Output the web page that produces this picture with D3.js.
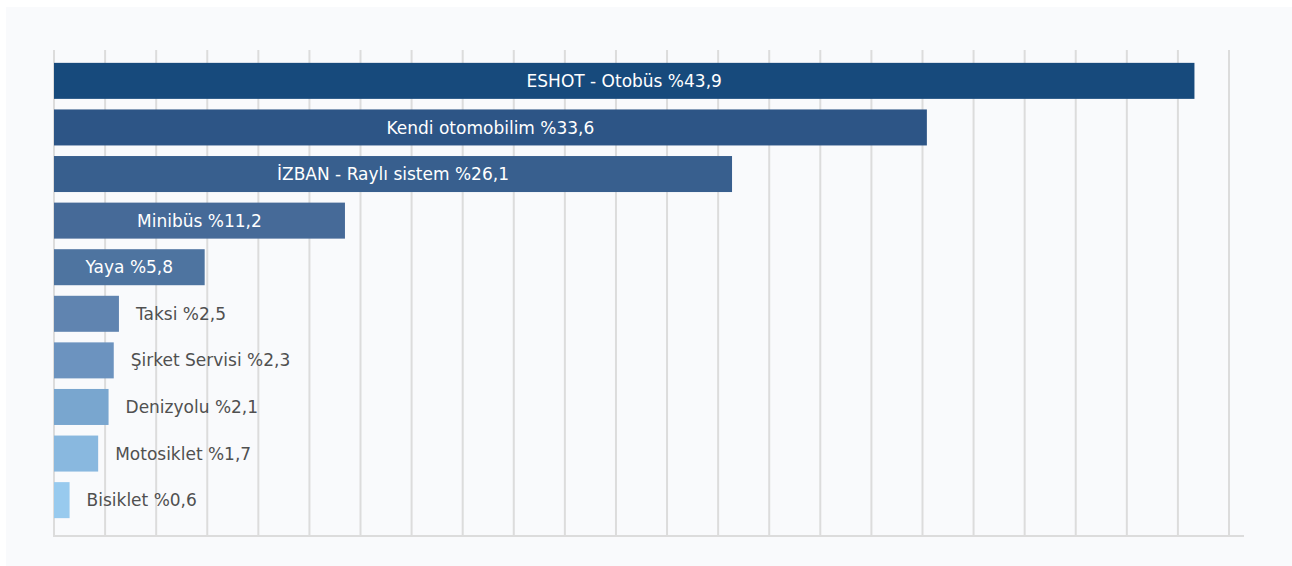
<!DOCTYPE html>
<html>
<head>
<meta charset="utf-8">
<script src="https://cdn.jsdelivr.net/npm/d3@7"></script>
<style>
  body { margin: 0; background: #fff; }
  svg text { font-family: "DejaVu Sans", sans-serif; }
</style>
</head>
<body>
<div id="chart"></div>
<script>
const categories = ["ESHOT - Otobüs", "Kendi otomobilim", "İZBAN - Raylı sistem", "Minibüs", "Yaya",
  "Taksi", "Şirket Servisi", "Denizyolu", "Motosiklet", "Bisiklet"];
const values = [43.9, 33.6, 26.1, 11.2, 5.8, 2.5, 2.3, 2.1, 1.7, 0.6];
const barColors = ["#174a7c", "#2d5586", "#385f8e", "#466a98", "#4e74a0",
  "#6084b0", "#6c93bf", "#79a6cf", "#89b8df", "#98caee"];

const width = 1292, height = 566;
const svg = d3.select('#chart').append('svg')
  .attr('width', width)
  .attr('height', height);

// light panel behind the chart
svg.append('rect')
  .attr('x', 6).attr('y', 7)
  .attr('width', width - 6).attr('height', height - 7)
  .attr('fill', '#f9fafc');

const xMax = 45.23;
const x = d3.scaleLinear()
  .domain([0, xMax])
  .range([54, 1229]);

const y = d3.scaleBand()
  .domain(categories)
  .range([57.5, 523.5])
  .paddingInner(0.227)
  .paddingOuter(0.115);

// vertical grid, 23 equal steps
const gridTicks = d3.range(0, 24).map(i => i * xMax / 23);
svg.append('g')
  .selectAll('line')
  .data(gridTicks)
  .enter().append('line')
  .attr('x1', d => x(d)).attr('x2', d => x(d))
  .attr('y1', 50).attr('y2', 536)
  .attr('stroke', '#dcdcdc')
  .attr('stroke-width', 2);

svg.append('line')
  .attr('x1', 53).attr('x2', 1244)
  .attr('y1', 536).attr('y2', 536)
  .attr('stroke', '#dcdcdc')
  .attr('stroke-width', 2);

const data = categories.map((c, i) => ({ name: c, value: values[i], color: barColors[i] }));

svg.append('g')
  .selectAll('rect')
  .data(data)
  .enter().append('rect')
  .attr('x', x(0))
  .attr('y', d => y(d.name))
  .attr('width', d => x(d.value) - x(0))
  .attr('height', y.bandwidth())
  .attr('fill', d => d.color);

const fmt = v => '%' + String(v).replace('.', ',');

const labels = svg.append('g')
  .selectAll('text')
  .data(data)
  .enter().append('text')
  .attr('y', d => y(d.name) + y.bandwidth() / 2)
  .attr('dy', '0.36em')
  .attr('font-size', 17)
  .text(d => d.name + ' ' + fmt(d.value));

// inside the bar when it fits, otherwise just after it
labels.each(function(d) {
  const t = d3.select(this);
  const w = this.getComputedTextLength();
  const barW = x(d.value) - x(0);
  if (w + 20 < barW) {
    t.attr('x', x(0) + barW / 2).attr('text-anchor', 'middle').attr('fill', '#ffffff');
  } else {
    t.attr('x', x(d.value) + 17).attr('text-anchor', 'start').attr('fill', '#505050');
  }
});
</script>
</body>
</html>
